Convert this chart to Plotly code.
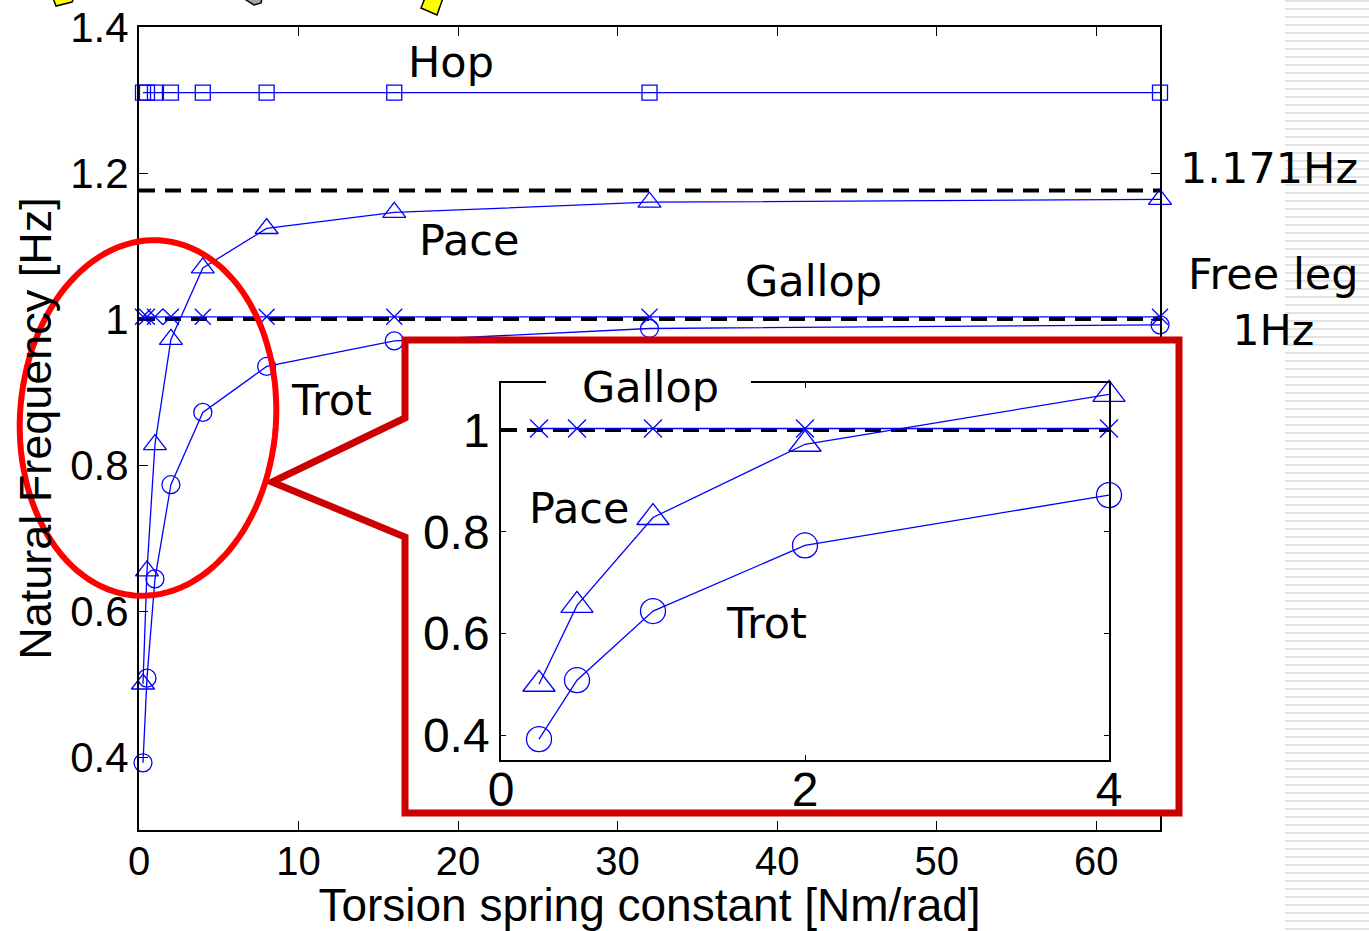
import numpy as np
import plotly.graph_objects as go

# ---------------- data ----------------
stiffness = [0.25, 0.5, 1, 2, 4, 8, 16, 32, 64]
hop = [1.31, 1.31, 1.31, 1.31, 1.31, 1.31, 1.31, 1.31, 1.31]
pace = [0.50, 0.655, 0.828, 0.972, 1.07, 1.124, 1.146, 1.160, 1.164]
gallop = [1.003, 1.003, 1.003, 1.003, 1.003, 1.003, 1.003, 1.003, 1.003]
trot = [0.392, 0.508, 0.644, 0.773, 0.872, 0.935, 0.970, 0.987, 0.992]

ref_levels = [1.176, 1.0]

main_xrange = [0, 64]
main_yrange = [0.3, 1.4]
main_xticks = [0, 10, 20, 30, 40, 50, 60]
main_yticks = [0.4, 0.6, 0.8, 1.0, 1.2, 1.4]
main_yticktext = ["0.4", "0.6", "0.8", "1", "1.2", "1.4"]
inset_xrange = [0, 4]
inset_yrange = [0.351, 1.0925]
inset_xticks = [0, 2, 4]
inset_yticks = [0.4, 0.6, 0.8, 1.0]
inset_yticktext = ["0.4", "0.6", "0.8", "1"]
inset_level = 1.0

# ---------------- layout helpers ----------------
W, H = 1369, 931
def px(x):
    return x / W
def py(y):
    return 1 - y / H

BLUE = "#0000ff"
TICKFONT = "Arial, Liberation Sans, sans-serif"
LABFONT = "DejaVu Sans, sans-serif"

fig = go.Figure()

def add_series(xs, ys, symbol, size, xa, ya):
    fig.add_trace(go.Scatter(
        x=xs, y=ys, mode="lines+markers", xaxis=xa, yaxis=ya,
        line=dict(color=BLUE, width=1.3),
        marker=dict(symbol=symbol, size=size, color=BLUE,
                    line=dict(color=BLUE, width=1.3)),
        cliponaxis=False, showlegend=False, hoverinfo="skip"))

# main chart
add_series(stiffness, hop, "square-open", 15, "x", "y")
add_series(stiffness, pace, "triangle-up-open", 20, "x", "y")
add_series(stiffness, gallop, "x-thin-open", 16, "x", "y")
add_series(stiffness, trot, "circle-open", 18, "x", "y")

# overlay (pixel coordinate system for decorations)
fig.add_trace(go.Scatter(x=[None], y=[None], xaxis="x2", yaxis="y2",
                         showlegend=False, hoverinfo="skip"))

# inset chart
sel = [i for i, v in enumerate(stiffness) if v <= inset_xrange[1]]
ix = [stiffness[i] for i in sel]
add_series(ix, [pace[i] for i in sel], "triangle-up-open", 28, "x3", "y3")
add_series(ix, [gallop[i] for i in sel], "x-thin-open", 18, "x3", "y3")
add_series(ix, [trot[i] for i in sel], "circle-open", 25, "x3", "y3")

DASH = dict(color="black", width=4, dash="16px,10px")
shapes = []
for lvl in ref_levels:
    shapes.append(dict(type="line", xref="x", yref="y",
                       x0=main_xrange[0], x1=main_xrange[1],
                       y0=lvl, y1=lvl, layer="below", line=DASH))

# callout (white filled, dark red outline)
shapes.append(dict(type="path", xref="x2", yref="y2", layer="below",
                   path="M405,340 L1179,340 L1179,813 L405,813 L405,537 L272,482 L405,418 Z",
                   fillcolor="white", line=dict(color="#cc0000", width=7)))

# inset reference line
shapes.append(dict(type="line", xref="x3", yref="y3",
                   x0=inset_xrange[0], x1=inset_xrange[1],
                   y0=inset_level, y1=inset_level, layer="below", line=DASH))

# red ellipse
cx, cy, ea, eb, th = 148, 418, 128, 178, np.deg2rad(4)
t = np.linspace(0, 2 * np.pi, 120)
ex = cx + ea * np.cos(t) * np.cos(th) - eb * np.sin(t) * np.sin(th)
ey = cy + ea * np.cos(t) * np.sin(th) + eb * np.sin(t) * np.cos(th)
epath = "M" + " L".join(f"{a:.1f},{b:.1f}" for a, b in zip(ex, ey)) + " Z"
shapes.append(dict(type="path", xref="x2", yref="y2", layer="below",
                   path=epath, line=dict(color="#ff0000", width=6)))

# gap in the inset frame behind its "Gallop" label
shapes.append(dict(type="rect", xref="x2", yref="y2", layer="above",
                   x0=546, x1=751, y0=376, y1=392, fillcolor="white",
                   line=dict(width=0)))

# right-hand stripes
spath = " ".join(f"M1285,{y} L1369,{y}" for y in range(1, H, 8))
shapes.append(dict(type="path", xref="x2", yref="y2", layer="above",
                   path=spath, line=dict(color="#e2e2e2", width=2)))

# cut-off decorations at the top edge
for p, c in [("M53,-2 L56,6 L72,2 L74,-2 Z", "#ffff00"),
             ("M243,-2 L254,5 L261,3 L262,-2 Z", "#a6a6a6"),
             ("M425,-2 L421,8 L437,15 L443,-2 Z", "#ffff00")]:
    shapes.append(dict(type="path", xref="x2", yref="y2", layer="above",
                       path=p, fillcolor=c, line=dict(color="black", width=1.5)))

ann = []
def label(txt, x, y, size=43, font=LABFONT):
    ann.append(dict(text=txt, x=x, y=y, xref="x2", yref="y2", showarrow=False,
                    font=dict(family=font, size=size, color="black"),
                    xanchor="center", yanchor="middle"))

label("Hop", 451, 62)
label("Pace", 469, 240)
label("Gallop", 813, 281)
label("Trot", 331, 400)
label("1.171Hz", 1269, 168)
label("Free leg<br>1Hz", 1273, 302)
label("Gallop", 650, 387)
label("Pace", 579, 508)
label("Trot", 766, 623)

axis_common = dict(showgrid=False, zeroline=False, showline=True,
                   linecolor="black", mirror="ticks", ticks="inside",
                   tickcolor="black", automargin=False)

fig.update_layout(
    width=W, height=H, margin=dict(l=0, r=0, t=0, b=0, autoexpand=False),
    paper_bgcolor="white", plot_bgcolor="rgba(0,0,0,0)",
    shapes=shapes, annotations=ann,
    xaxis=dict(domain=[px(139), px(1160)], range=main_xrange, anchor="y",
               tickvals=main_xticks, ticklen=9, linewidth=2,
               ticklabelstandoff=-5,
               tickfont=dict(family=TICKFONT, size=40, color="black"),
               title=dict(text="Torsion spring constant [Nm/rad]", standoff=5,
                          font=dict(family=TICKFONT, size=46, color="black")),
               **axis_common),
    yaxis=dict(domain=[py(830), py(27)], range=main_yrange, anchor="x",
               tickvals=main_yticks, ticktext=main_yticktext, ticklen=9,
               linewidth=2,
               tickfont=dict(family=TICKFONT, size=42, color="black"),
               title=dict(text="Natural Frequency [Hz]", standoff=4,
                          font=dict(family=TICKFONT, size=45, color="black")),
               **axis_common),
    xaxis2=dict(domain=[0, 1], range=[0, W], anchor="y2", visible=False,
                fixedrange=True, automargin=False),
    yaxis2=dict(domain=[0, 1], range=[H, 0], anchor="x2", visible=False,
                fixedrange=True, automargin=False),
    xaxis3=dict(domain=[px(501), px(1109)], range=inset_xrange, anchor="y3",
                tickvals=inset_xticks, ticklen=5, linewidth=1.5,
                ticklabelstandoff=-13,
                tickfont=dict(family=TICKFONT, size=48, color="black"),
                **axis_common),
    yaxis3=dict(domain=[py(760), py(383)], range=inset_yrange, anchor="x3",
                tickvals=inset_yticks, ticktext=inset_yticktext, ticklen=5,
                linewidth=1.5,
                tickfont=dict(family=TICKFONT, size=48, color="black"),
                **axis_common),
)

fig.write_html("out.html", config={"displayModeBar": False},
               post_script="document.body.style.margin='0';document.body.style.overflow='hidden';")
